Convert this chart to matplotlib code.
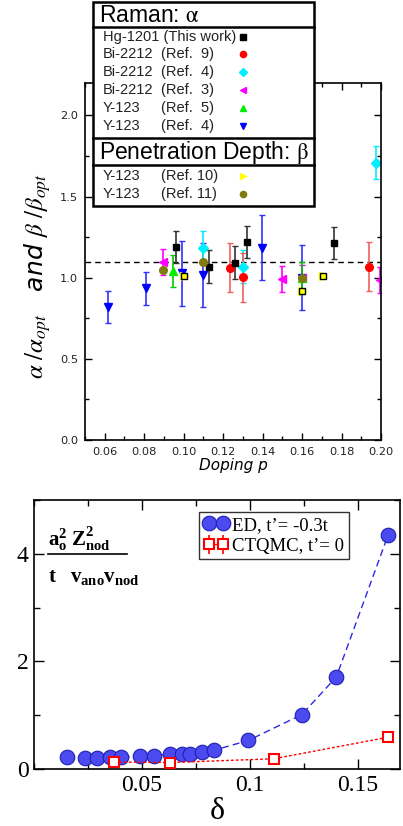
import numpy as np
import matplotlib
matplotlib.use('Agg')
import matplotlib.pyplot as plt
from matplotlib.patches import Rectangle
from matplotlib.ticker import MultipleLocator, FormatStrFormatter

# ---------------- top panel data (alpha/alpha_opt and beta/beta_opt vs doping) ----------------
hg_x = [0.096, 0.1128, 0.126, 0.132, 0.1762]
hg_y = [1.19, 1.068, 1.093, 1.219, 1.215]
hg_err = [0.10, 0.10, 0.10, 0.10, 0.10]

bi9_x = [0.1237, 0.1299, 0.1941]
bi9_y = [1.062, 1.002, 1.068]
bi9_err = [0.15, 0.15, 0.15]

bi4_x = [0.1096, 0.1299, 0.1973]
bi4_y = [1.186, 1.068, 1.709]
bi4_err = [0.10, 0.10, 0.10]

bi3_x = [0.0897, 0.1497, 0.16, 0.1995]
bi3_y = [1.099, 0.992, 1.0, 0.986]
bi3_err = [0.08, 0.08, 0.08, 0.08]

y5_x = [0.0948, 0.16]
y5_y = [1.041, 1.0]
y5_err = [0.10, 0.10]

y4_x = [0.0618, 0.0808, 0.099, 0.1096, 0.1399, 0.16]
y4_y = [0.821, 0.934, 1.027, 1.017, 1.186, 1.0]
y4_err = [0.10, 0.10, 0.20, 0.20, 0.20, 0.20]

y10_x = [0.1003, 0.16, 0.1708]
y10_y = [1.01, 0.918, 1.01]

y11_x = [0.0897, 0.1096, 0.16]
y11_y = [1.048, 1.095, 1.0]

avg_level = 1.095

raman_labels = [('Hg-1201 (This work)', ''), ('Bi-2212', '(Ref.  9)'), ('Bi-2212', '(Ref.  4)'),
                ('Bi-2212', '(Ref.  3)'), ('Y-123', '(Ref.  5)'), ('Y-123', '(Ref.  4)')]
pen_labels = [('Y-123', '(Ref. 10)'), ('Y-123', '(Ref. 11)')]

# ---------------- bottom panel data ----------------
ed_x = [0.0154, 0.0238, 0.0292, 0.035, 0.0403, 0.0489, 0.0557, 0.063, 0.0685, 0.0723,
        0.0777, 0.0835, 0.0992, 0.124, 0.14, 0.164]
ed_y = [0.22, 0.20, 0.20, 0.22, 0.22, 0.235, 0.25, 0.27, 0.285, 0.28,
        0.31, 0.35, 0.53, 1.01, 1.71, 4.35]
ctq_x = [0.0372, 0.063, 0.111, 0.164]
ctq_y = [0.13, 0.12, 0.19, 0.59]
ctq_err = [0.06, 0.06, 0.06, 0.06]

W, H = 403, 826
fig = plt.figure(figsize=(W / 100, H / 100), dpi=100)

# ================= top panel =================
sans = 'DejaVu Sans'
lsans = 'Liberation Sans'
ax1 = fig.add_axes([85 / W, 1 - 440 / H, 296 / W, 357 / H])
ax1.set_xlim(0.05, 0.20)
ax1.set_ylim(0, 2.2)

ax1.axhline(avg_level, color='black', ls=(0, (4, 3)), lw=1, zorder=1)

eb = dict(ls='none', capsize=2.5, elinewidth=1.2, capthick=1)
ax1.errorbar(y4_x, y4_y, yerr=y4_err, marker='v', ms=6, color='#0000ff', ecolor='#3030ff', **eb)
ax1.errorbar(bi3_x, bi3_y, yerr=bi3_err, marker='<', ms=6, color='#ff00ff', **eb)
ax1.errorbar(y5_x, y5_y, yerr=y5_err, marker='^', ms=6, color='#00ee00', ecolor='#00cc00', **eb)
ax1.errorbar(bi4_x, bi4_y, yerr=bi4_err, marker='D', ms=5, color='#00eeff', **eb)
ax1.errorbar(bi9_x, bi9_y, yerr=bi9_err, marker='o', ms=5.5, color='#ff0000', ecolor='#f06060', **eb)
ax1.errorbar(hg_x, hg_y, yerr=hg_err, marker='s', ms=5, color='black', ecolor='#333333', **eb)
ax1.plot(y10_x, y10_y, ls='none', marker='>', ms=6, color='#ffff00', zorder=4)
ax1.plot(y10_x, y10_y, ls='none', marker='s', ms=5, mfc='#ffff00', mec='black', mew=1, zorder=5)
ax1.plot(y11_x, y11_y, ls='none', marker='o', ms=5.5, color='#807a10', zorder=5)

ax1.set_xticks([0.06, 0.08, 0.10, 0.12, 0.14, 0.16, 0.18, 0.20])
ax1.xaxis.set_minor_locator(MultipleLocator(0.01))
ax1.yaxis.set_major_locator(MultipleLocator(0.5))
ax1.yaxis.set_minor_locator(MultipleLocator(0.25))
ax1.xaxis.set_major_formatter(FormatStrFormatter('%.2f'))
ax1.yaxis.set_major_formatter(FormatStrFormatter('%.1f'))
ax1.tick_params(which='both', direction='in', top=True, right=True, width=1)
ax1.tick_params(which='major', length=5, labelsize=8.2, pad=5)
ax1.tick_params(which='minor', length=3)
for lab in ax1.get_xticklabels() + ax1.get_yticklabels():
    lab.set_family(sans)
    lab.set_color('#222222')
for s in ax1.spines.values():
    s.set_linewidth(1.2)
ax1.set_xlabel('Doping p', fontsize=11, style='italic', family=sans, labelpad=1)
ax1.set_ylabel(r'$\alpha\ /\alpha_{opt}$   and $\beta\ /\beta_{opt}$', fontsize=18,
               style='italic', family=sans, math_fontfamily='stix')
ax1.yaxis.set_label_coords(-0.108, 0.46)

# legend box drawn in figure pixel coordinates
lg = fig.add_axes([0, 0, 1, 1], zorder=10)
lg.set_xlim(0, W)
lg.set_ylim(H, 0)
lg.axis('off')
lg.add_patch(Rectangle((93, 1.5), 221, 204, fc='white', ec='black', lw=1.8))
for yy in [26.7, 137.7, 165]:
    lg.plot([93, 314], [yy, yy], color='black', lw=1.8)
lg.text(99, 15, r'Raman: $\mathrm{\alpha}$', fontsize=16.5, family=lsans, va='center',
        math_fontfamily='stix')
lg.text(99, 152.5, r'Penetration Depth: $\mathrm{\beta}$', fontsize=16.5, family=lsans,
        va='center', math_fontfamily='stix')

raman_markers = [('s', 'black', 4), ('o', '#ff0000', 4.5), ('D', '#00eeff', 4),
                 ('<', '#ff00ff', 5), ('^', '#00ee00', 5), ('v', '#0000ff', 5)]
pen_markers = [('>', '#ffff00', 5), ('o', '#807a10', 4.5)]
raman_rows = [37.3, 54.3, 72.3, 90, 107.7, 125.7]
pen_rows = [175.7, 193.7]
for (name, ref), (mk, col, ms), yy in zip(raman_labels + pen_labels,
                                          raman_markers + pen_markers,
                                          raman_rows + pen_rows):
    lg.text(103, yy, name, fontsize=10.5, family=lsans, va='center', color='#222222')
    if ref:
        lg.text(161, yy, ref, fontsize=10.5, family=lsans, va='center', color='#222222')
    lg.plot([243], [yy], marker=mk, color=col, ms=ms, ls='none')

# ================= bottom panel =================
plt.rcParams['mathtext.fontset'] = 'custom'
plt.rcParams['mathtext.rm'] = 'Liberation Serif'
plt.rcParams['mathtext.it'] = 'Liberation Serif:italic'
plt.rcParams['mathtext.bf'] = 'Liberation Serif:bold'
serif = 'Liberation Serif'

ax2 = fig.add_axes([34 / W, 1 - 769 / H, 366 / W, 269 / H])
ax2.set_xlim(0, 0.1695)
ax2.set_ylim(0, 5)

ax2.plot(ed_x, ed_y, ls=(0, (5, 3)), lw=1, color='#2a2ae0', marker='o', ms=10.5,
         mfc='#4a4af0', mec='#2020b0', mew=0.8, label="ED, t\u2019= -0.3t", zorder=3)
ax2.errorbar(ctq_x, ctq_y, yerr=ctq_err, ls=(0, (2, 1.5)), lw=1, color='#ff0000', marker='s',
             ms=7, mfc='white', mec='#ff0000', mew=1.5, capsize=0, elinewidth=1.2,
             label="CTQMC, t\u2019= 0", zorder=4)

ax2.set_xticks([0.05, 0.1, 0.15])
ax2.set_xticklabels(['0.05', '0.1', '0.15'])
ax2.xaxis.set_minor_locator(MultipleLocator(0.025))
ax2.set_yticks([0, 2, 4])
ax2.set_yticklabels(['0', '2', '4'])
ax2.yaxis.set_minor_locator(MultipleLocator(1))
ax2.tick_params(which='both', direction='in', top=True, right=True, width=1)
ax2.tick_params(which='major', length=7, labelsize=17, pad=4)
ax2.tick_params(which='minor', length=4)
for lab in ax2.get_xticklabels() + ax2.get_yticklabels():
    lab.set_family(serif)
for s in ax2.spines.values():
    s.set_linewidth(1.2)
ax2.set_xlabel(r'$\mathrm{\delta}$', fontsize=23)
ax2.xaxis.set_label_coords(0.5, -0.095)

leg = ax2.legend(loc='upper left', bbox_to_anchor=(0.451, 0.955), borderaxespad=0,
                 numpoints=2, handlelength=1.3, handletextpad=0.2, borderpad=0.25,
                 labelspacing=0.2, fancybox=False, framealpha=1,
                 prop={'family': serif, 'size': 13.5})
leg.get_frame().set_edgecolor('#333333')
leg.get_frame().set_linewidth(1)

# fraction label
ax2.text(0.038, 0.855, r'$\mathbf{a_o^2\ Z_{nod}^2}$', transform=ax2.transAxes,
         fontsize=15, ha='left', va='center')
ax2.plot([0.038, 0.254], [0.80, 0.80], transform=ax2.transAxes, color='black', lw=1.2)
ax2.text(0.038, 0.715, r'$\mathbf{t\ \ \ v_{ano}v_{nod}}$', transform=ax2.transAxes,
         fontsize=15, ha='left', va='center')

fig.savefig('out.png', dpi=100)
